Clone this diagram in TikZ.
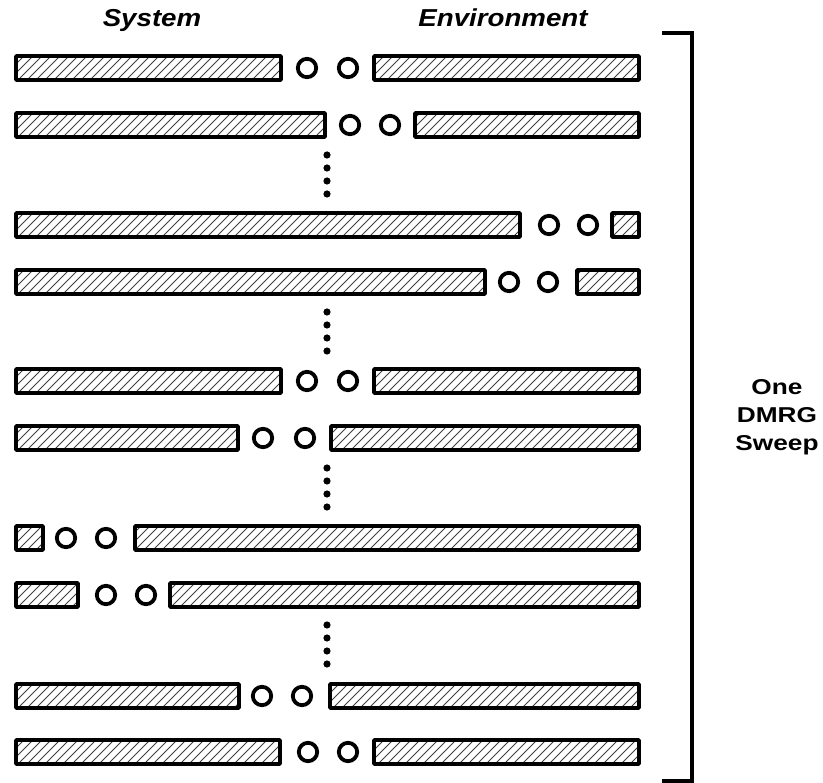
\documentclass[tikz,border=0pt]{standalone}
\usepackage{fontspec}
\setmainfont{Liberation Sans}
\newfontfamily\headfont[FakeStretch=1.13]{Liberation Sans}
\newfontfamily\sidefont[FakeStretch=1.22]{Liberation Sans}
\newcommand{\hatchbar}[3]{% y, x1, x2
  \begin{scope}
    \clip (#2,#1-12) rectangle (#3,#1+12);
    \foreach \t in {-20,-11,...,650} {\draw[hatch] (\t,#1+14) -- (\t+28,#1-14);}
  \end{scope}
  \draw[bar] (#2,#1-12) rectangle (#3,#1+12);
}
\newcommand{\dmrgrow}[5]{%
  \hatchbar{#1}{16}{#2-2}
  \draw[site] (#3,#1) circle (9.2);
  \draw[site] (#4,#1) circle (9.2);
  \hatchbar{#1}{#5+2}{639}
}
\newcommand{\dotcol}[1]{%
  \foreach \k in {0,1,2,3} {\fill (327,#1+13*\k) circle (3.6);}
}
\begin{document}
\begin{tikzpicture}[x=1pt,y=-1pt,
  bar/.style={draw=black,line width=3.8pt,rounded corners=0.8pt},
  hatch/.style={draw=black!75,line width=0.9pt},
  site/.style={draw=black,line width=3.8pt},
  head/.style={anchor=base,inner sep=0pt,font=\headfont\bfseries\itshape\fontsize{24.5}{28}\selectfont},
  side/.style={anchor=base,inner sep=0pt,font=\sidefont\bfseries\fontsize{21.5}{26}\selectfont}]
\useasboundingbox (0,0) rectangle (823,783);

\node[head] (sys) at (152,27) {System};
\node[head] (env) at (503,27) {Environment};

\dmrgrow{68}{283}{307}{348}{372}
\dmrgrow{125}{327}{350}{390}{413}
\dotcol{155}
\dmrgrow{225}{522}{549}{588}{610}
\dmrgrow{282}{487}{509}{548}{575}
\dotcol{312}
\dmrgrow{381}{283}{307}{348}{372}
\dmrgrow{438}{240}{263}{305}{329}
\dotcol{468}
\dmrgrow{538}{45}{66}{106}{133}
\dmrgrow{595}{80}{106}{146}{168}
\dotcol{625}
\dmrgrow{696}{241}{262}{302}{328}
\dmrgrow{752}{282}{308}{348}{372}

\coordinate (bt) at (662,33);
\coordinate (bb) at (662,781);
\draw[line width=3.4pt] (bt) -- (692,33) -- (692,781) -- (bb);

\node[side] (one) at (777,395) {One};
\node[side] (dmrg) at (777,423) {DMRG};
\node[side] (sweep) at (777,451) {Sweep};
\end{tikzpicture}
\end{document}
